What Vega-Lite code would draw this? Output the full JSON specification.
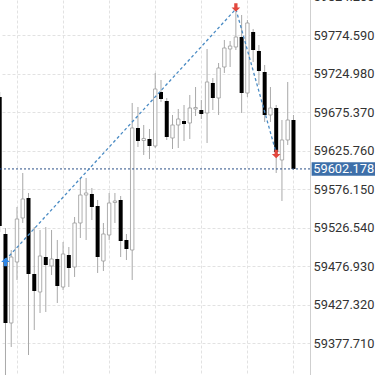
{
  "$schema": "https://vega.github.io/schema/vega-lite/v6.json",
  "width": 310,
  "height": 385,
  "autosize": {"type": "none"},
  "padding": {"left": 0, "top": -10, "right": 65, "bottom": 0},
  "background": "white",
  "config": {
    "view": {"stroke": null},
    "font": "Roboto",
    "axisX": {"labels": false, "ticks": false, "domain": false, "grid": true,
              "gridColor": "#e2e2e2", "gridDash": [3, 2], "gridWidth": 1},
    "axisY": {"ticks": false, "domain": true, "domainColor": "#cfcfcf",
              "grid": true, "gridColor": "#e2e2e2", "gridDash": [3, 2], "gridWidth": 1,
              "labelPadding": 3, "labelFontSize": 12.8, "labelColor": "#333333", "labelFont": "Roboto",
              "labelOverlap": false, "labelFlush": false}
  },
  "datasets": {
    "candles": [
      {"k": 0, "open": 59694.78, "high": 59701.22, "low": 59521.00, "close": 59528.72},
      {"k": 1, "open": 59518.42, "high": 59526.15, "low": 59330.48, "close": 59403.85},
      {"k": 2, "open": 59403.85, "high": 59497.82, "low": 59372.96, "close": 59488.81},
      {"k": 3, "open": 59482.38, "high": 59553.18, "low": 59459.21, "close": 59537.73},
      {"k": 4, "open": 59539.02, "high": 59596.95, "low": 59532.58, "close": 59563.48},
      {"k": 5, "open": 59564.76, "high": 59571.20, "low": 59362.65, "close": 59466.93},
      {"k": 6, "open": 59466.93, "high": 59527.43, "low": 59394.84, "close": 59445.05},
      {"k": 7, "open": 59443.76, "high": 59523.57, "low": 59416.73, "close": 59490.10},
      {"k": 8, "open": 59488.81, "high": 59527.43, "low": 59418.01, "close": 59478.52},
      {"k": 9, "open": 59477.23, "high": 59523.57, "low": 59465.64, "close": 59486.24},
      {"k": 10, "open": 59486.24, "high": 59510.70, "low": 59429.60, "close": 59451.48},
      {"k": 11, "open": 59450.19, "high": 59508.12, "low": 59446.33, "close": 59492.68},
      {"k": 12, "open": 59491.39, "high": 59501.69, "low": 59450.19, "close": 59474.65},
      {"k": 13, "open": 59475.94, "high": 59540.31, "low": 59463.07, "close": 59532.58},
      {"k": 14, "open": 59532.58, "high": 59590.51, "low": 59513.27, "close": 59568.63},
      {"k": 15, "open": 59568.63, "high": 59590.51, "low": 59510.70, "close": 59571.20},
      {"k": 16, "open": 59569.91, "high": 59577.64, "low": 59536.44, "close": 59553.18},
      {"k": 17, "open": 59554.47, "high": 59562.19, "low": 59468.22, "close": 59488.81},
      {"k": 18, "open": 59483.66, "high": 59532.58, "low": 59470.79, "close": 59518.42},
      {"k": 19, "open": 59517.13, "high": 59571.20, "low": 59510.70, "close": 59558.33},
      {"k": 20, "open": 59558.97, "high": 59571.20, "low": 59532.58, "close": 59560.90},
      {"k": 21, "open": 59562.19, "high": 59567.34, "low": 59488.81, "close": 59509.41},
      {"k": 22, "open": 59510.70, "high": 59518.42, "low": 59484.95, "close": 59499.11},
      {"k": 23, "open": 59497.82, "high": 59687.06, "low": 59459.21, "close": 59654.88},
      {"k": 24, "open": 59654.88, "high": 59681.91, "low": 59630.42, "close": 59638.14},
      {"k": 25, "open": 59638.78, "high": 59658.74, "low": 59620.12, "close": 59641.36},
      {"k": 26, "open": 59640.72, "high": 59653.59, "low": 59614.97, "close": 59631.70},
      {"k": 27, "open": 59631.70, "high": 59725.68, "low": 59629.13, "close": 59705.08},
      {"k": 28, "open": 59701.22, "high": 59716.67, "low": 59688.35, "close": 59692.21},
      {"k": 29, "open": 59689.63, "high": 59693.49, "low": 59639.43, "close": 59643.29},
      {"k": 30, "open": 59642.00, "high": 59671.61, "low": 59627.84, "close": 59658.74},
      {"k": 31, "open": 59658.74, "high": 59679.33, "low": 59629.13, "close": 59666.46},
      {"k": 32, "open": 59663.89, "high": 59684.48, "low": 59638.14, "close": 59660.02},
      {"k": 33, "open": 59661.31, "high": 59697.36, "low": 59640.72, "close": 59680.62},
      {"k": 34, "open": 59679.33, "high": 59707.65, "low": 59670.32, "close": 59681.27},
      {"k": 35, "open": 59678.05, "high": 59690.92, "low": 59666.46, "close": 59672.90},
      {"k": 36, "open": 59674.19, "high": 59756.57, "low": 59635.57, "close": 59714.09},
      {"k": 37, "open": 59712.80, "high": 59719.24, "low": 59678.05, "close": 59693.49},
      {"k": 38, "open": 59693.49, "high": 59738.55, "low": 59671.61, "close": 59732.11},
      {"k": 39, "open": 59733.40, "high": 59768.16, "low": 59725.68, "close": 59757.86},
      {"k": 40, "open": 59756.57, "high": 59766.87, "low": 59733.40, "close": 59760.43},
      {"k": 41, "open": 59759.15, "high": 59804.20, "low": 59755.28, "close": 59772.02},
      {"k": 42, "open": 59772.02, "high": 59800.34, "low": 59674.19, "close": 59699.93},
      {"k": 43, "open": 59699.93, "high": 59793.90, "low": 59694.78, "close": 59790.04},
      {"k": 44, "open": 59778.46, "high": 59782.32, "low": 59739.84, "close": 59755.28},
      {"k": 45, "open": 59754.00, "high": 59761.72, "low": 59710.23, "close": 59728.25},
      {"k": 46, "open": 59726.96, "high": 59735.98, "low": 59662.60, "close": 59671.61},
      {"k": 47, "open": 59671.61, "high": 59707.65, "low": 59662.60, "close": 59680.62},
      {"k": 48, "open": 59680.62, "high": 59684.48, "low": 59596.95, "close": 59623.98},
      {"k": 49, "open": 59613.68, "high": 59665.17, "low": 59560.90, "close": 59639.43},
      {"k": 50, "open": 59639.43, "high": 59714.09, "low": 59632.99, "close": 59665.17},
      {"k": 51, "open": 59665.17, "high": 59671.61, "low": 59600.81, "close": 59602.178}
    ],
    "zigzag": [
      {"k": 1, "price": 59484.95},
      {"k": 41, "price": 59808.06},
      {"k": 48, "price": 59622.69}
    ],
    "buys": [{"k": 1, "price": 59482.38}],
    "sells": [{"k": 41, "price": 59810.0}, {"k": 48, "price": 59621.4}],
    "last": [{"price": 59602.178, "label": "59602.178"}]
  },
  "layer": [
    {
      "data": {"name": "candles"},
      "mark": {"type": "rule", "color": "#a9a9a9", "strokeWidth": 1, "clip": true},
      "encoding": {
        "x": {
          "field": "k", "type": "quantitative", "title": null,
          "scale": {"domain": [0.05, 53.87], "nice": false, "zero": false, "padding": 0},
          "axis": {"values": [3, 11, 19, 27, 35, 43, 51]}
        },
        "y": {
          "field": "low", "type": "quantitative", "title": null,
          "scale": {"domain": [59336.91, 59832.52], "nice": false, "zero": false, "padding": 0},
          "axis": {"orient": "right", "format": ".3f",
                   "values": [59377.71, 59427.32, 59476.93, 59526.54, 59576.15, 59625.76, 59675.37, 59724.98, 59774.59, 59824.2]}
        },
        "y2": {"field": "high"}
      }
    },
    {
      "data": {"name": "candles"},
      "transform": [{"filter": "datum.close < datum.open"}],
      "mark": {"type": "bar", "size": 4, "color": "#000000", "clip": true},
      "encoding": {
        "x": {"field": "k", "type": "quantitative", "title": null},
        "y": {"field": "open", "type": "quantitative", "title": null},
        "y2": {"field": "close"}
      }
    },
    {
      "data": {"name": "candles"},
      "transform": [{"filter": "datum.close >= datum.open"}],
      "mark": {"type": "bar", "size": 3.4, "fill": "#ffffff", "stroke": "#9a9a9a", "strokeWidth": 0.8, "clip": true},
      "encoding": {
        "x": {"field": "k", "type": "quantitative", "title": null},
        "y": {"field": "open", "type": "quantitative", "title": null},
        "y2": {"field": "close"}
      }
    },
    {
      "data": {"name": "last"},
      "mark": {"type": "rule", "color": "#2a4f86", "strokeDash": [2, 2], "strokeWidth": 1},
      "encoding": {
        "y": {"field": "price", "type": "quantitative", "title": null}
      }
    },
    {
      "data": {"name": "zigzag"},
      "mark": {"type": "line", "color": "#4a8bc4", "strokeDash": [3, 2.5], "strokeWidth": 1.3},
      "encoding": {
        "x": {"field": "k", "type": "quantitative", "title": null},
        "y": {"field": "price", "type": "quantitative", "title": null}
      }
    },
    {
      "data": {"name": "buys"},
      "mark": {"type": "point", "shape": "M0,-1L1,0L0.38,0L0.38,1L-0.38,1L-0.38,0L-1,0Z", "size": 75, "filled": true, "color": "#2f86e6", "opacity": 1},
      "encoding": {
        "x": {"field": "k", "type": "quantitative", "title": null},
        "y": {"field": "price", "type": "quantitative", "title": null}
      }
    },
    {
      "data": {"name": "sells"},
      "mark": {"type": "point", "shape": "M0,1L1,0L0.38,0L0.38,-1L-0.38,-1L-0.38,0L-1,0Z", "size": 75, "filled": true, "color": "#e2473d", "opacity": 1},
      "encoding": {
        "x": {"field": "k", "type": "quantitative", "title": null},
        "y": {"field": "price", "type": "quantitative", "title": null}
      }
    },
    {
      "data": {"name": "last"},
      "mark": {"type": "rule", "color": "#3d6fa9", "strokeWidth": 13.5, "strokeCap": "butt"},
      "encoding": {
        "x": {"datum": 54.15, "type": "quantitative"},
        "x2": {"datum": 66},
        "y": {"field": "price", "type": "quantitative", "title": null}
      }
    },
    {
      "data": {"name": "last"},
      "mark": {"type": "text", "color": "#ffffff", "align": "left", "baseline": "middle", "fontSize": 12.8, "font": "Roboto"},
      "encoding": {
        "x": {"datum": 54.44, "type": "quantitative"},
        "y": {"field": "price", "type": "quantitative", "title": null},
        "text": {"field": "label"}
      }
    }
  ]
}
